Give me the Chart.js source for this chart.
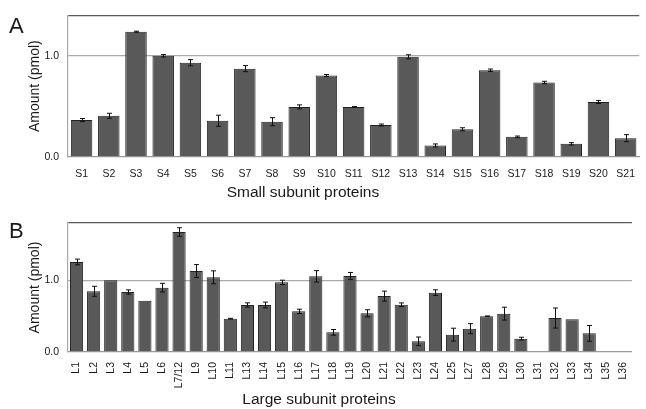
<!DOCTYPE html>
<html>
<head>
<meta charset="utf-8">
<script src="https://cdn.jsdelivr.net/npm/chart.js@4"></script>
<style>
  html, body { margin: 0; padding: 0; background: #fff; }
  #wrap { position: relative; width: 646px; height: 409px; overflow: hidden; font-family: "Liberation Sans", Arial, sans-serif; color: #1a1a1a; }
  .panel { position: absolute; left: 0; width: 646px; }
  .lbl { position: absolute; white-space: nowrap; }
  .letter { font-size: 22px; line-height: 22px; }
  .xtitle { font-size: 15.5px; line-height: 16px; transform: translateX(-50%); }
</style>
</head>
<body>
<div id="wrap">
  <div class="panel" style="top:0;height:205px"><canvas id="chartA" width="646" height="205"></canvas></div>
  <div class="panel" style="top:205px;height:204px"><canvas id="chartB" width="646" height="204"></canvas></div>
  <div class="lbl letter" style="left:9px;top:15px">A</div>
  <div class="lbl letter" style="left:9px;top:220px">B</div>
  <div class="lbl xtitle" style="left:303px;top:184px">Small subunit proteins</div>
  <div class="lbl xtitle" style="left:319px;top:391px">Large subunit proteins</div>
</div>
<script>
const smallLabels = ['S1','S2','S3','S4','S5','S6','S7','S8','S9','S10','S11','S12','S13','S14','S15','S16','S17','S18','S19','S20','S21'];
const smallValues = [0.365,0.407,1.238,1.0,0.932,0.358,0.873,0.349,0.495,0.805,0.495,0.316,0.99,0.114,0.274,0.857,0.199,0.736,0.13,0.544,0.186];
const smallErrors = [0.015,0.025,0.005,0.012,0.03,0.055,0.03,0.04,0.02,0.01,0.003,0.01,0.02,0.015,0.015,0.012,0.008,0.012,0.012,0.015,0.035];

const largeLabels = ['L1','L2','L3','L4','L5','L6','L7/12','L9','L10','L11','L13','L14','L15','L16','L17','L18','L19','L20','L21','L22','L23','L24','L25','L27','L28','L29','L30','L31','L32','L33','L34','L35','L36'];
const largeValues = [1.256,0.847,1.0,0.837,0.716,0.898,1.674,1.13,1.042,0.465,0.656,0.656,0.972,0.567,1.056,0.274,1.06,0.54,0.78,0.66,0.149,0.828,0.242,0.326,0.498,0.535,0.186,null,0.474,0.456,0.26,null,null];
const largeErrors = [0.04,0.07,0,0.03,0,0.06,0.06,0.09,0.09,0.005,0.03,0.04,0.03,0.03,0.08,0.04,0.05,0.05,0.07,0.025,0.06,0.04,0.09,0.07,0.005,0.09,0.02,0,0.14,0,0.11,0,0];

const yTickValues = [0, 1];
const yAxisTitle = 'Amount (pmol)';

const errorBarPlugin = {
  id: 'errorBars',
  afterDatasetsDraw(chart, args, opts) {
    const {ctx, scales: {x, y}} = chart;
    const vals = chart.data.datasets[0].data;
    const errs = opts.errors || [];
    ctx.save();
    ctx.strokeStyle = '#111';
    ctx.lineWidth = 1;
    vals.forEach((v, i) => {
      const e = errs[i];
      if (v == null || !e) return;
      const px = Math.round(x.getPixelForValue(i)) + 0.5;
      const yTop = y.getPixelForValue(v + e);
      const yBot = y.getPixelForValue(v - e);
      const cap = 2.5;
      ctx.beginPath();
      ctx.moveTo(px, yTop); ctx.lineTo(px, yBot);
      ctx.moveTo(px - cap, yTop); ctx.lineTo(px + cap, yTop);
      ctx.moveTo(px - cap, yBot); ctx.lineTo(px + cap, yBot);
      ctx.stroke();
    });
    ctx.restore();
  }
};

function makeChart(id, labels, values, errors, yMax, opt) {
  return new Chart(document.getElementById(id), {
    type: 'bar',
    data: {
      labels: labels,
      datasets: [{
        data: values,
        backgroundColor: '#595959',
        borderColor: '#222222',
        borderWidth: 1,
        barPercentage: opt.barPct,
        categoryPercentage: 1.0
      }]
    },
    options: {
      responsive: false,
      animation: false,
      devicePixelRatio: 1,
      layout: { padding: { top: opt.padTop, left: 0, right: 0, bottom: 0 } },
      plugins: {
        legend: { display: false },
        tooltip: { enabled: false },
        errorBars: { errors: errors }
      },
      scales: {
        x: {
          grid: { display: false, drawTicks: false },
          border: { display: true, color: '#9a9a9a', width: 1.2 },
          ticks: {
            color: '#1a1a1a',
            font: { family: 'Liberation Sans', size: 10.5 },
            padding: opt.xTickPad,
            minRotation: opt.rot,
            maxRotation: opt.rot,
            autoSkip: false
          },
          afterFit(scale) { scale.height = opt.xHeight; }
        },
        y: {
          min: 0,
          max: yMax,
          afterBuildTicks(scale) {
            scale.ticks = yTickValues.concat([yMax]).map(v => ({ value: v }));
          },
          grid: {
            drawTicks: false,
            color(ctx) {
              const v = ctx.tick ? ctx.tick.value : null;
              if (v === yMax) return '#5a5a5a';
              if (v === 1) return '#ababab';
              return 'rgba(0,0,0,0)';
            },
            lineWidth: 1.3
          },
          border: { display: true, color: '#a8a8a8', width: 1.2 },
          ticks: {
            color: '#1a1a1a',
            font: { family: 'Liberation Sans', size: 10.5 },
            padding: 9,
            callback(value) { return value === yMax ? '' : Number(value).toFixed(1); }
          },
          title: {
            display: true,
            text: yAxisTitle,
            color: '#1a1a1a',
            font: { family: 'Liberation Sans', size: 14 },
            padding: { top: opt.yTitlePad, bottom: 0 }
          },
          afterFit(scale) { scale.width = 68; }
        }
      }
    },
    plugins: [errorBarPlugin]
  });
}

makeChart('chartA', smallLabels, smallValues, smallErrors, 1.4,
  { barPct: 0.79, padTop: 13, xHeight: 48, xTickPad: 11, rot: 0, yTitlePad: 27 });
makeChart('chartB', largeLabels, largeValues, largeErrors, 1.8,
  { barPct: 0.77, padTop: 18, xHeight: 57, xTickPad: 10, rot: 90, yTitlePad: 27 });
</script>
</body>
</html>
